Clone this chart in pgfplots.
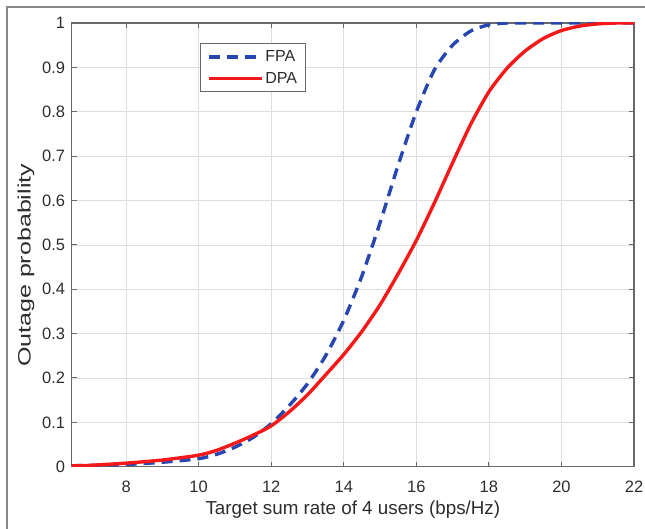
\documentclass[border=0pt]{standalone}
\usepackage{pgfplots}
\pgfplotsset{compat=1.18}
\usepackage{fontspec}
\setmainfont{Liberation Sans}
\definecolor{fpablue}{RGB}{40,70,175}
\definecolor{dpared}{RGB}{245,25,25}
\definecolor{axgray}{RGB}{105,105,105}
\definecolor{gridgray}{RGB}{222,222,222}
\definecolor{txtgray}{RGB}{45,45,45}
\begin{document}
\begin{tikzpicture}
\useasboundingbox (0pt,0pt) rectangle (645pt,529pt);
\draw[color=axgray!80, line width=1.2pt] (7pt,0pt) -- (7pt,522pt) -- (645pt,522pt);
\begin{axis}[
  at={(71.7pt,62.3pt)}, anchor=south west,
  scale only axis, width=562.3pt, height=443.7pt,
  xmin=6.5, xmax=22, ymin=0, ymax=1,
  xtick={8,10,...,22},
  ytick={0,0.1,...,1},
  yticklabels={0,0.1,0.2,0.3,0.4,0.5,0.6,0.7,0.8,0.9,1},
  grid=major,
  major grid style={color=gridgray, line width=0.6pt},
  axis line style={color=axgray, line width=1.1pt},
  tick style={color=axgray, line width=1pt},
  tick align=inside,
  major tick length=5pt,
  xtick pos=both, ytick pos=both,
  /pgf/number format/assume math mode=true,
  tick label style={font=\fontsize{16.5}{19}\selectfont, color=txtgray},
  xticklabel style={yshift=-11pt},
  yticklabel style={xshift=-3pt},
  xlabel={Target sum rate of 4 users (bps/Hz)},
  ylabel={Outage probability},
  xlabel style={at={(axis description cs:0.5,0)}, anchor=base, yshift=-48pt,
    font=\fontsize{18.8}{22}\selectfont, color=txtgray},
  ylabel style={at={(axis description cs:-0.0729,0.4536)}, anchor=base,
    font=\fontsize{18}{22}\selectfont, color=txtgray, xscale=1.39},
  legend style={at={(0.229,0.954)}, anchor=north west,
    draw=axgray, line width=0.8pt, fill=white,
    font=\fontsize{16}{19}\selectfont, text=txtgray,
    row sep=5pt, inner xsep=6pt, inner ysep=5pt},
  legend cell align=left,
  legend image code/.code={\draw[#1, line width=3.4pt] (0pt,0pt) -- (53pt,0pt);},
]
\addplot[color=fpablue, line width=3.4pt, dash pattern=on 11pt off 7pt, smooth, tension=0.4] coordinates {
(6.5,0.002) (7,0.003) (8,0.005) (9,0.01) (10,0.018) (10.5,0.028) (11,0.044)
(11.5,0.066) (12,0.097) (12.5,0.138) (13,0.187) (13.5,0.25) (14,0.33)
(14.5,0.43) (15,0.55) (15.5,0.68) (16,0.80) (16.5,0.895) (17,0.95)
(17.5,0.982) (18,0.996) (18.5,1) (19,1) (20,1) (21,1) (22,1)
};
\addlegendentry{FPA}
\addplot[color=dpared, line width=3.4pt, smooth, tension=0.4] coordinates {
(6.5,0.002) (7,0.003) (8,0.008) (9,0.015) (10,0.026) (10.5,0.037) (11,0.053)
(11.5,0.071) (12,0.092) (12.5,0.124) (13,0.162) (13.5,0.207) (14,0.253)
(14.5,0.305) (15,0.365) (15.5,0.435) (16,0.51) (16.5,0.595) (17,0.685)
(17.5,0.772) (18,0.845) (18.5,0.898) (19,0.937) (19.5,0.965) (20,0.983)
(20.5,0.993) (21,0.998) (21.5,1) (22,1)
};
\addlegendentry{DPA}
\end{axis}
\end{tikzpicture}
\end{document}
